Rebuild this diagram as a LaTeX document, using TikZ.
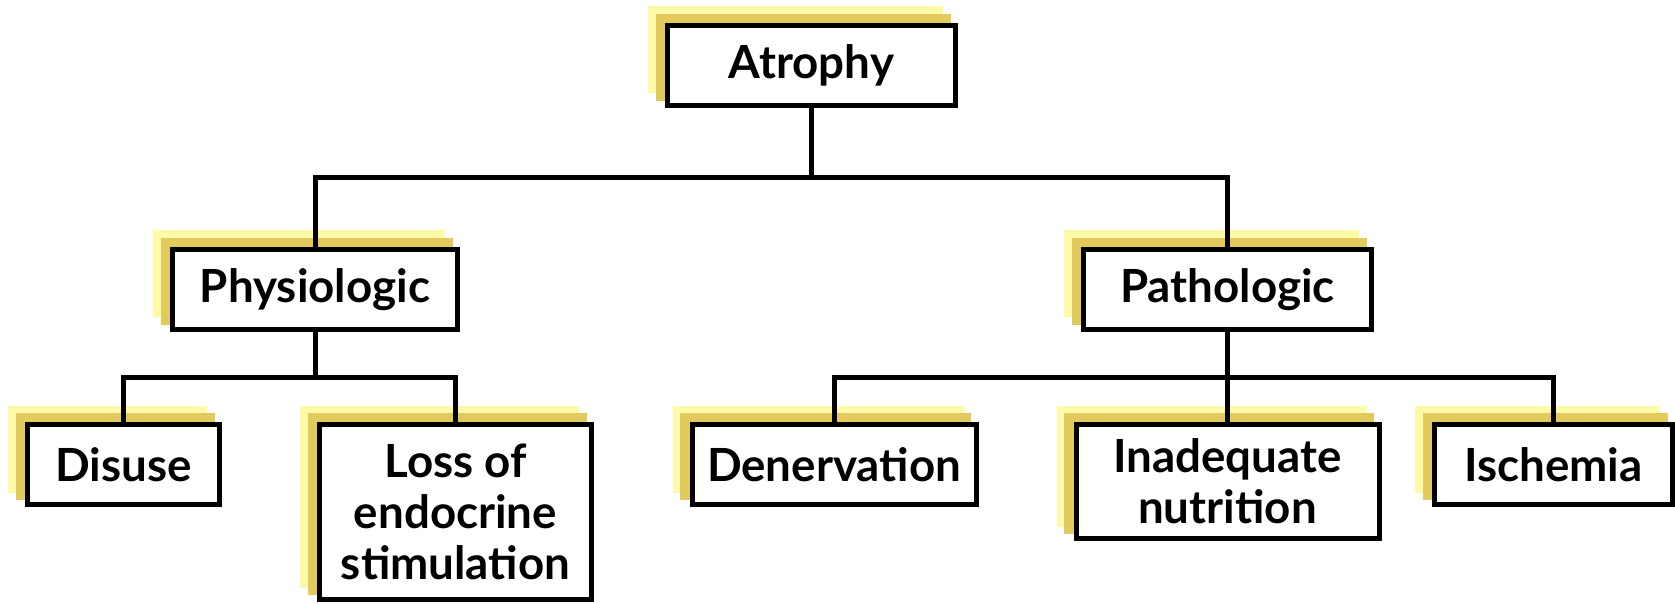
\documentclass[tikz,border=0pt]{standalone}
\usepackage{fontspec}
\setmainfont{Lato}
\usepackage{xcolor}
\usepackage{tikz}
\usetikzlibrary{shadows,positioning,calc}
\definecolor{shadowlight}{RGB}{255, 250, 168}
\definecolor{shadowgold}{RGB}{227, 202, 92}

\begin{document}
\begin{tikzpicture}[box/.style={draw,line width=0.05cm,fill=white,align=center,inner sep=0pt,minimum height=0.8cm,font=\fontsize{13}{14.5}\selectfont\bfseries,general shadow={shadow xshift=-0.16cm,shadow yshift=0.155cm,fill=shadowlight,draw=shadowlight,line width=0.07cm},general shadow={shadow xshift=-0.085cm,shadow yshift=0.08cm,fill=shadowgold,draw=shadowgold,line width=0.07cm}},line/.style={line width=0.05cm}]
\useasboundingbox (0,0) rectangle (16.75,-6.04);
\node[box,minimum width=2.88cm](atrophy) at (8.115,-0.655){Atrophy};
\node[box,minimum width=2.85cm,below=1.39cm of atrophy,xshift=-4.965cm](physio){Physiologic}; \node[box,minimum width=2.88cm,below=1.39cm of atrophy,xshift=4.16cm](patho){Pathologic};
\node[box,minimum width=1.92cm,below=0.9cm of physio,xshift=-1.915cm](disuse){Disuse}; \node[box,minimum width=2.72cm,minimum height=1.75cm,below=0.9cm of physio,xshift=1.405cm](loss){Loss of\\endocrine\\stimulation};
\node[box,minimum width=2.84cm,below=0.9cm of patho,xshift=-3.935cm](denerv){Denervation}; \node[box,minimum width=3.03cm,minimum height=1.14cm,below=0.9cm of patho](nutrition){Inadequate\\nutrition};
\node[box,minimum width=2.38cm,below=0.9cm of patho,xshift=3.26cm](ischemia){Ischemia};
\coordinate (bus top) at ($(atrophy.south)!0.5!(atrophy.south |- physio.north)$);
\coordinate (bus left) at ($(physio.south)!0.5!(physio.south |- disuse.north)$);
\coordinate (bus right) at ($(patho.south)!0.5!(patho.south |- denerv.north)$);
\draw[line](atrophy.south)--(bus top)-|(physio.north); \draw[line](bus top)-|(patho.north);
\draw[line](physio.south)--(bus left)-|(disuse.north); \draw[line](bus left)-|(loss.north);
\draw[line](patho.south)--(nutrition.north); \draw[line](denerv.north)|-(bus right)-|(ischemia.north);
\end{tikzpicture}
\end{document}
